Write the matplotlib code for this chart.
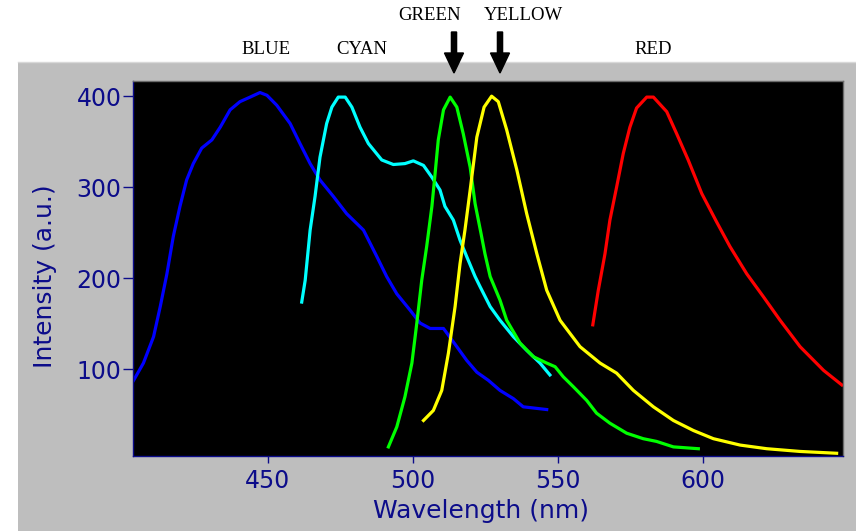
import matplotlib
matplotlib.use("Agg")
import matplotlib.pyplot as plt
from matplotlib.patches import Rectangle

# ---- data ----
blue_wl = [403.7, 407.1, 410.6, 412.9, 415.2, 417.4, 419.7, 422.0, 424.3, 427.2, 430.7, 433.6, 437.0,
           440.4, 443.9, 447.3, 449.7, 453.1, 457.7, 461.1, 464.6, 468.0, 472.6, 477.2, 483.0, 487.6,
           491.0, 494.5, 499.1, 502.5, 506.0, 510.6, 515.2, 518.6, 522.1, 526.1, 530.1, 534.7, 538.1, 546.2]
blue_int = [88, 107, 136, 169, 205, 246, 279, 308, 326, 343, 352, 366, 385,
            394, 399, 404, 401, 390, 370, 348, 326, 308, 290, 271, 253, 224,
            202, 183, 165, 151, 145, 145, 125, 110, 97, 88, 77, 68, 59, 56]

cyan_wl = [461.7, 462.9, 464.6, 466.3, 468.0, 470.3, 472.1, 474.3, 476.7, 479.0, 481.8, 484.7, 489.3,
           493.3, 497.3, 500.2, 503.7, 506.6, 509.4, 511.1, 514.0, 516.3, 518.6, 521.5, 523.2, 526.7,
           530.1, 534.7, 539.3, 543.9, 547.3]
cyan_int = [174, 198, 253, 290, 333, 370, 388, 399, 399, 388, 366, 348, 330,
            325, 326, 329, 324, 311, 297, 279, 264, 242, 224, 202, 191, 169,
            154, 136, 121, 107, 94]

green_wl = [491.6, 494.5, 497.3, 499.7, 501.4, 503.1, 504.8, 506.6, 507.7, 508.8, 510.6, 512.9, 515.2,
            517.4, 519.8, 521.5, 523.5, 524.9, 526.7, 530.1, 532.4, 537.0, 541.6, 546.2, 549.1, 551.9,
            555.4, 560.0, 563.4, 568.0, 573.8, 579.5, 584.1, 589.9, 598.5]
green_int = [15, 37, 70, 107, 151, 198, 235, 279, 315, 352, 385, 399, 388,
             359, 322, 282, 250, 227, 202, 176, 154, 129, 114, 107, 103, 92,
             81, 66, 52, 41, 30, 24, 21, 15, 13]

yellow_wl = [503.7, 507.1, 510.0, 512.3, 514.6, 516.3, 518.0, 519.8, 522.1, 524.6, 527.2, 529.5, 532.4,
             535.9, 539.3, 542.8, 546.2, 550.8, 557.7, 564.6, 570.3, 576.1, 583.0, 589.9, 596.8, 603.7,
             612.9, 622.1, 633.6, 646.2]
yellow_int = [44, 55, 77, 118, 169, 216, 253, 297, 355, 388, 400, 394, 363,
              319, 271, 227, 187, 154, 125, 107, 96, 77, 59, 44, 33, 24,
              17, 13, 10, 8]

red_wl = [562.1, 564.0, 566.3, 568.0, 570.3, 572.6, 574.9, 577.2, 580.7, 583.0, 587.6, 591.0, 595.0,
          599.7, 604.8, 609.4, 615.2, 620.9, 626.7, 633.6, 641.7, 648.0]
red_int = [149, 187, 227, 264, 300, 337, 366, 387, 399, 399, 383, 359, 330,
           293, 262, 235, 205, 180, 154, 125, 99, 83]

x_ticks = [450, 500, 550, 600]
y_ticks = [100, 200, 300, 400]
top_labels = ["BLUE", "CYAN", "GREEN", "YELLOW", "RED"]

# ---- figure ----
W, H = 856, 531
fig = plt.figure(figsize=(W / 100, H / 100), dpi=100)
fig.patch.set_facecolor("white")

# grey panel
panel = Rectangle((18 / W, 0), 1 - 18 / W, (H - 62) / H, transform=fig.transFigure,
                  facecolor="#bebebe", edgecolor="none", zorder=0)
fig.add_artist(panel)
fig.add_artist(plt.Line2D([18 / W, 1], [(H - 62) / H] * 2, transform=fig.transFigure,
                          color="#d8d8d8", lw=1, zorder=1))

ax_l, ax_r, ax_t, ax_b = 132.7, 843, 80.7, 456
ax = fig.add_axes([ax_l / W, 1 - ax_b / H, (ax_r - ax_l) / W, (ax_b - ax_t) / H])
ax.set_facecolor("black")

lw = 2.3
ax.plot(blue_wl, blue_int, color="#0000ff", lw=lw)
ax.plot(cyan_wl, cyan_int, color="#00ffff", lw=lw)
ax.plot(green_wl, green_int, color="#00ff00", lw=lw)
ax.plot(yellow_wl, yellow_int, color="#ffff00", lw=lw)
ax.plot(red_wl, red_int, color="#ff0000", lw=lw)

ax.set_xlim(403.4, 648.4)
ax.set_ylim(5, 417)

navy = "#0c0c8a"
ax.set_xticks(x_ticks)
ax.set_yticks(y_ticks)
ax.tick_params(axis="x", colors=navy, length=5, width=1, labelsize=17, pad=4)
ax.tick_params(axis="y", colors=navy, length=7, width=1, labelsize=17, pad=1)
for s in ["left", "bottom"]:
    ax.spines[s].set_color(navy)
    ax.spines[s].set_linewidth(1)
for s in ["top", "right"]:
    ax.spines[s].set_color("#6a6a6a")
    ax.spines[s].set_linewidth(1)

fig.text(481 / W, 1 - 511 / H, "Wavelength (nm)", color=navy, fontsize=18,
         ha="center", va="center")
fig.text(45 / W, 1 - 276 / H, "Intensity (a.u.)", color=navy, fontsize=18,
         ha="center", va="center", rotation=90)

# top labels
label_pos = [(266, 50), (362, 50), (430, 15), (523, 15), (653, 50)]
for txt, (px, py) in zip(top_labels, label_pos):
    fig.text(px / W, 1 - py / H, txt, family="Liberation Serif", fontsize=13.5,
             color="black", ha="center", va="center")

# arrows for GREEN and YELLOW
for px in [454, 500]:
    fig.add_artist(matplotlib.patches.FancyArrow(
        px / W, 1 - 32 / H, 0, -(73 - 32) / H, width=3.2 / H, head_width=19 / W,
        head_length=20 / H, length_includes_head=True, color="black",
        transform=fig.transFigure))

fig.savefig("out.png", dpi=100)
